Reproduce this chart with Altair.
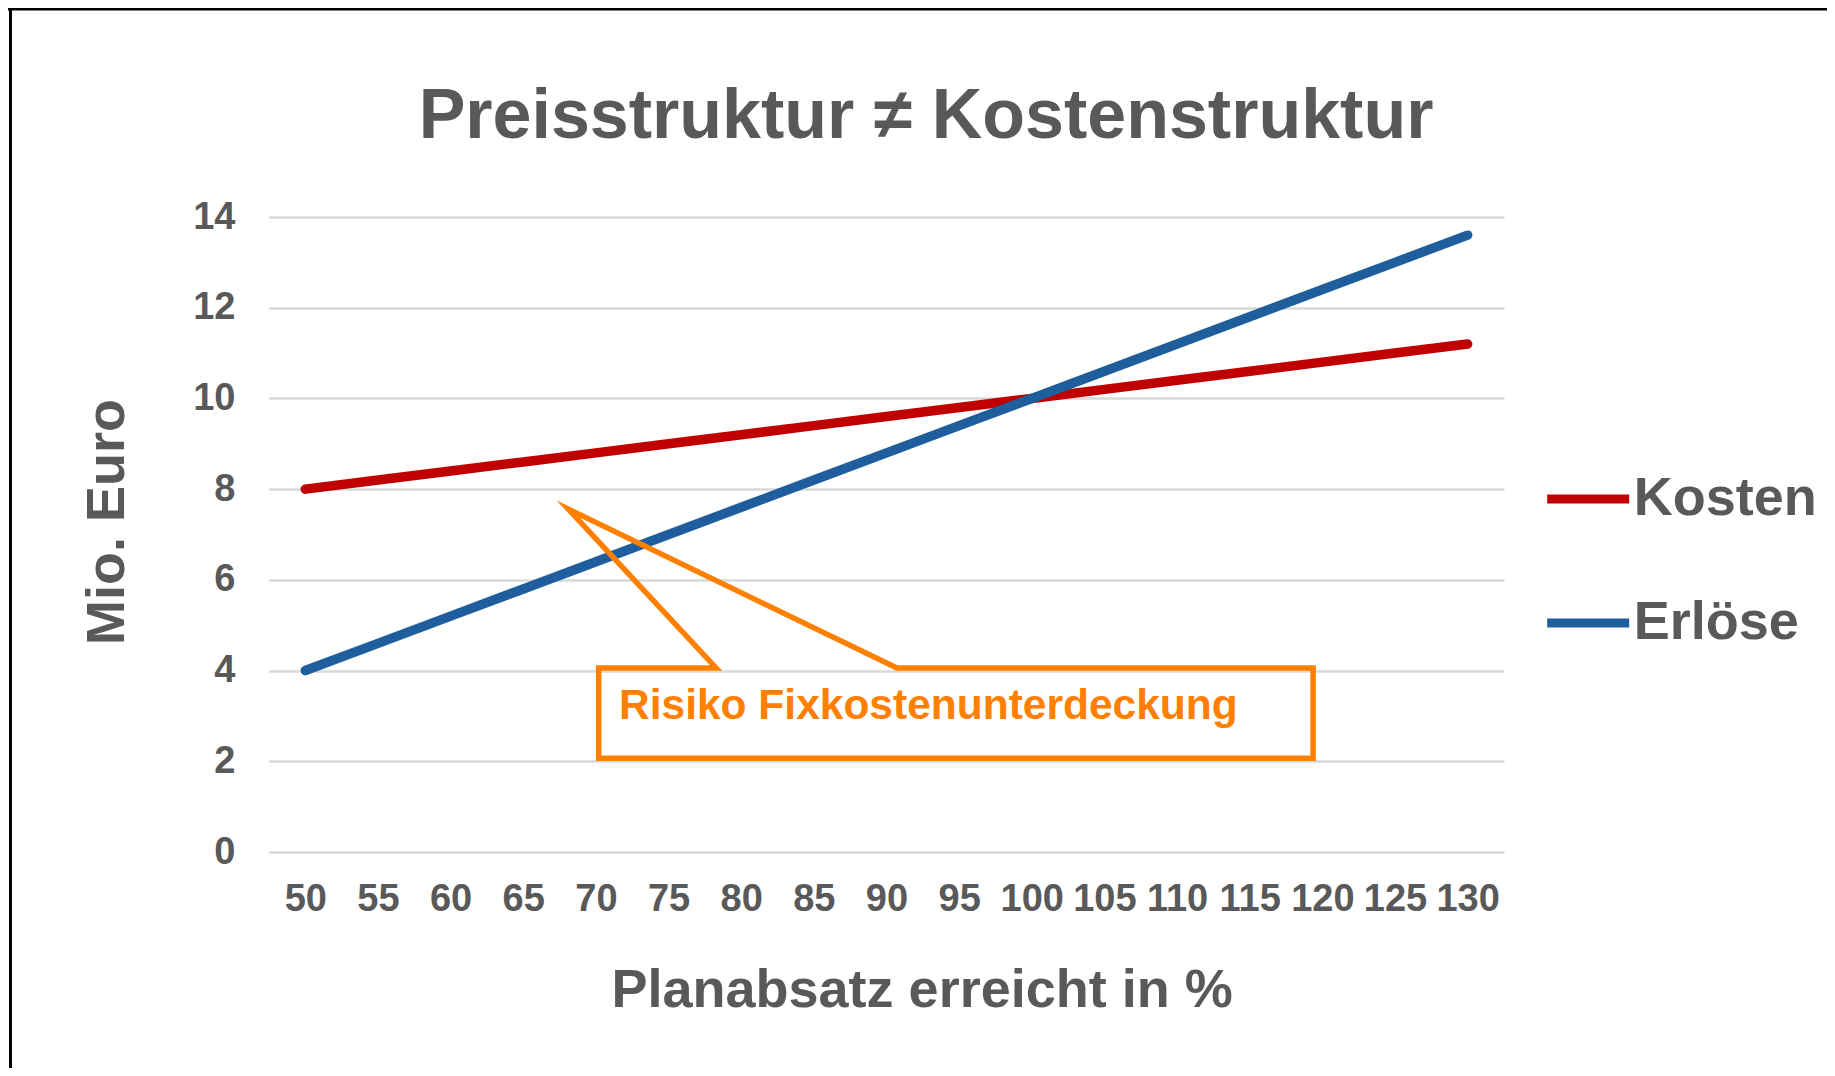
import altair as alt
import pandas as pd

# ---- data ----
absatz = [50, 55, 60, 65, 70, 75, 80, 85, 90, 95, 100, 105, 110, 115, 120, 125, 130]
kosten = [8.0, 8.2, 8.4, 8.6, 8.8, 9.0, 9.2, 9.4, 9.6, 9.8, 10.0, 10.2, 10.4, 10.6, 10.8, 11.0, 11.2]
erloese = [4.0, 4.6, 5.2, 5.8, 6.4, 7.0, 7.6, 8.2, 8.8, 9.4, 10.0, 10.6, 11.2, 11.8, 12.4, 13.0, 13.6]
series = ["Kosten", "Erlöse"]
y_ticks = [0, 2, 4, 6, 8, 10, 12, 14]

chart_title = "Preisstruktur ≠ Kostenstruktur"
x_title = "Planabsatz erreicht in %"
y_title = "Mio. Euro"
callout_text = "Risiko Fixkostenunterdeckung"

# callout outline (in data coordinates: Planabsatz %, Mio. Euro)
callout_x = [70.19, 70.19, 78.27, 68.10, 90.72, 119.36, 119.36, 70.19]
callout_y = [2.066, 4.057, 4.057, 7.56, 4.057, 4.057, 2.066, 2.066]
callout_text_x = [71.59]
callout_text_y = [2.926]

# ---- styling ----
FONT = "Liberation Sans"
GREY = "#595959"
RED = "#C00000"
BLUE = "#1F5E9C"
ORANGE = "#FF8000"

rows = []
for a, k in zip(absatz, kosten):
    rows.append({"Planabsatz": a, "Wert": k, "Serie": "Kosten"})
for a, e in zip(absatz, erloese):
    rows.append({"Planabsatz": a, "Wert": e, "Serie": "Erlöse"})
df = pd.DataFrame(rows)

callout_df = pd.DataFrame({"i": list(range(len(callout_x))), "cx": callout_x, "cy": callout_y})
text_df = pd.DataFrame({"tx": callout_text_x, "ty": callout_text_y, "label": [callout_text]})
one = pd.DataFrame({"a": [0]})

x_scale = alt.Scale(domain=[47.5, 132.5], nice=False, zero=False)
y_scale = alt.Scale(domain=[0, 14], nice=False)

x_axis = alt.Axis(
    values=absatz, format="d", title=x_title, grid=False, domain=False, ticks=False,
    tickSize=0, labelPadding=28, labelFontSize=38, labelFont=FONT, labelFontWeight="bold",
    labelColor=GREY, labelFlush=False, labelOverlap=False,
    titleFontSize=54, titleFont=FONT, titleFontWeight="bold", titleColor=GREY,
    titleX=652.6, titleY=154, titleAlign="center", titleBaseline="alphabetic",
)
y_axis = alt.Axis(
    values=y_ticks, title=y_title, grid=True, gridColor="#D9D9D9", gridWidth=2.5,
    domain=False, ticks=False, tickSize=0, labelPadding=34, labelFontSize=38,
    labelFont=FONT, labelFontWeight="bold", labelColor=GREY,
    titleFontSize=54, titleFont=FONT, titleFontWeight="bold", titleColor=GREY,
    titleAngle=270, titleX=-146, titleY=304.5, titleAlign="center",
    titleBaseline="alphabetic",
)

color = alt.Color(
    "Serie:N",
    scale=alt.Scale(domain=series, range=[RED, BLUE]),
    legend=alt.Legend(
        title=None, orient="none", legendX=1273.7, legendY=236.5, padding=0,
        symbolType="stroke", symbolSize=6724, symbolStrokeWidth=9,
        labelFontSize=54, labelFont=FONT, labelFontWeight="bold", labelColor=GREY,
        labelOffset=0, rowPadding=51, labelLimit=400,
    ),
)

base = alt.Chart(df).encode(
    x=alt.X("Planabsatz:Q", scale=x_scale, axis=x_axis),
    y=alt.Y("Wert:Q", scale=y_scale, axis=y_axis),
    color=color,
)
line_k = base.transform_filter(alt.datum.Serie == "Kosten").mark_line(strokeWidth=9.5, strokeCap="round")
line_e = base.transform_filter(alt.datum.Serie == "Erlöse").mark_line(strokeWidth=9.5, strokeCap="round")

callout = alt.Chart(callout_df).mark_line(
    color=ORANGE, strokeWidth=5.5, strokeJoin="miter", strokeMiterLimit=12, strokeCap="square"
).encode(
    x=alt.X("cx:Q", scale=x_scale, axis=x_axis),
    y=alt.Y("cy:Q", scale=y_scale, axis=y_axis),
    order="i:Q",
)
callout_label = alt.Chart(text_df).mark_text(
    align="left", baseline="alphabetic", font=FONT, fontWeight="bold", fontSize=42.5, color=ORANGE
).encode(
    x=alt.X("tx:Q", scale=x_scale, axis=x_axis),
    y=alt.Y("ty:Q", scale=y_scale, axis=y_axis),
    text="label:N",
)

title_mark = alt.Chart(one).mark_text(
    align="center", baseline="alphabetic", font=FONT, fontWeight="bold", fontSize=70, color=GREY,
    text=chart_title,
).encode(x=alt.value(657), y=alt.value(-79))

left_border = alt.Chart(one).mark_rule(color="black", strokeWidth=3).encode(
    x=alt.value(-258.5), y=alt.value(-209), y2=alt.value(851)
)
top_border = alt.Chart(one).mark_rule(color="black", strokeWidth=3).encode(
    x=alt.value(-261), x2=alt.value(1558), y=alt.value(-208)
)

chart = alt.layer(
    line_k, line_e, callout, callout_label, title_mark, left_border, top_border
).properties(
    width=1235, height=635,
    background="white",
    padding={"left": 261, "top": 209, "right": 323, "bottom": 216},
    autosize=alt.AutoSizeParams(type="none"),
).configure_view(stroke="transparent", strokeWidth=0)

chart.save("out.html", embed_options={"renderer": "svg", "actions": False})
